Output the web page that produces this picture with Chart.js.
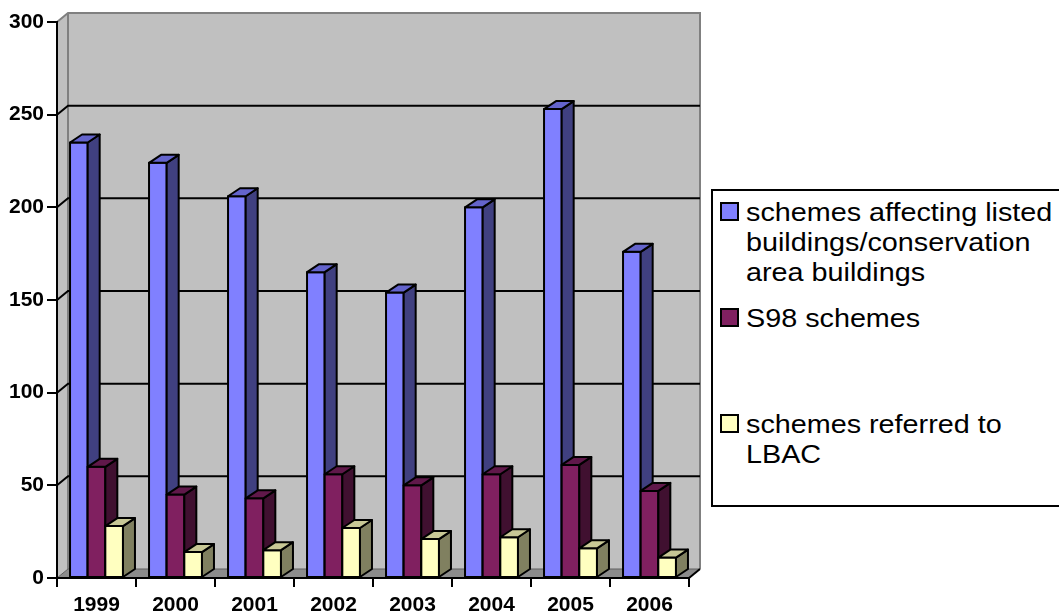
<!DOCTYPE html>
<html>
<head>
<meta charset="utf-8">
<script src="https://cdn.jsdelivr.net/npm/chart.js@4.4.1/dist/chart.umd.min.js"></script>
<style>
  html, body { margin:0; padding:0; background:#fff; }
  #wrap { position:relative; width:1059px; height:614px; overflow:hidden; }
  #legend {
    position:absolute; left:711px; top:189px; width:360px; height:314px;
    border:2px solid #000; background:#fff;
    font-family:"Liberation Sans", Arial, sans-serif; font-size:25px; color:#000;
  }
  .item { position:absolute; left:0; }
  .box { position:absolute; left:7px; top:3px; width:15px; height:15px; border:2px solid #000; }
  .txt { position:absolute; left:33px; top:-2px; width:285px; line-height:30px;
         transform:scaleX(1.15); transform-origin:0 0; }
</style>
</head>
<body>
<div id="wrap">
  <canvas id="chart"></canvas>
  <div id="legend"></div>
</div>
<script>
// ---------------------------
// Data
// ---------------------------
var years = ["1999", "2000", "2001", "2002", "2003", "2004", "2005", "2006"];
var listedSchemes = [235, 224, 206, 165, 154, 200, 253, 176];
var s98Schemes = [60, 45, 43, 56, 50, 56, 61, 47];
var lbacSchemes = [28, 14, 15, 27, 21, 22, 16, 11];
var seriesLabels = [
    "schemes affecting listed buildings/conservation area buildings",
    "S98 schemes",
    "schemes referred to LBAC"
];
var yTicks = [0, 50, 100, 150, 200, 250, 300];

// front, side, top colours for each series
var frontColors = ["#8080FF", "#802060", "#FFFFC0"];
var sideColors = ["#404080", "#401030", "#808060"];
var topColors = ["#6464CC", "#60184A", "#C8C896"];

// depth of the fake 3D
var wallDX = 11, wallDY = -9;
var barDX = 12, barDY = -8;

// ---------------------------
// Walls, floor and back gridlines
// ---------------------------
var wallsPlugin = {
    id: "walls",
    beforeDraw: function(chart){
        var ctx = chart.ctx;
        var a = chart.chartArea;
        var ys = chart.scales.y;
        ctx.save();

        // back wall
        ctx.fillStyle = "#C0C0C0";
        ctx.fillRect(a.left + wallDX, a.top + wallDY, a.right - a.left, a.bottom - a.top);

        // left wall
        ctx.beginPath();
        ctx.moveTo(a.left, a.top);
        ctx.lineTo(a.left + wallDX, a.top + wallDY);
        ctx.lineTo(a.left + wallDX, a.bottom + wallDY);
        ctx.lineTo(a.left, a.bottom);
        ctx.closePath();
        ctx.fillStyle = "#C0C0C0";
        ctx.fill();

        // wall edges
        ctx.strokeStyle = "#808080";
        ctx.lineWidth = 2;
        ctx.beginPath();
        ctx.moveTo(a.left, a.top);
        ctx.lineTo(a.left + wallDX, a.top + wallDY);
        ctx.lineTo(a.right + wallDX, a.top + wallDY);
        ctx.lineTo(a.right + wallDX, a.bottom + wallDY);
        ctx.moveTo(a.left + wallDX, a.top + wallDY);
        ctx.lineTo(a.left + wallDX, a.bottom + wallDY);
        ctx.stroke();

        // gridlines on side and back wall
        ctx.strokeStyle = "#000";
        ctx.lineWidth = 2;
        for(var i=0; i<yTicks.length; i++){
            var v = yTicks[i];
            if(v === ys.min || v === ys.max) continue;
            var y = ys.getPixelForValue(v);
            ctx.beginPath();
            ctx.moveTo(a.left, y);
            ctx.lineTo(a.left + wallDX, y + wallDY);
            ctx.lineTo(a.right + wallDX, y + wallDY);
            ctx.stroke();
        }

        // floor
        ctx.beginPath();
        ctx.moveTo(a.left, a.bottom);
        ctx.lineTo(a.left + wallDX, a.bottom + wallDY);
        ctx.lineTo(a.right + wallDX, a.bottom + wallDY);
        ctx.lineTo(a.right, a.bottom);
        ctx.closePath();
        ctx.fillStyle = "#8C8C8C";
        ctx.fill();
        ctx.strokeStyle = "#606060";
        ctx.lineWidth = 1;
        ctx.stroke();

        ctx.restore();
    },
    afterDraw: function(chart){
        var ctx = chart.ctx;
        var a = chart.chartArea;
        ctx.save();
        ctx.strokeStyle = "#000";
        ctx.lineWidth = 2;
        ctx.beginPath();
        ctx.moveTo(a.right, a.bottom);
        ctx.lineTo(a.right + wallDX, a.bottom + wallDY);
        ctx.stroke();
        ctx.restore();
    }
};

// ---------------------------
// Boxes: repaint each bar as front + side + top,
// series by series so later series sit in front
// ---------------------------
function poly(ctx, pts, fill){
    ctx.beginPath();
    ctx.moveTo(pts[0][0], pts[0][1]);
    for(var k=1; k<pts.length; k++) ctx.lineTo(pts[k][0], pts[k][1]);
    ctx.closePath();
    ctx.fillStyle = fill;
    ctx.fill();
    ctx.stroke();
}

var bar3dPlugin = {
    id: "bar3d",
    afterDatasetsDraw: function(chart){
        var ctx = chart.ctx;
        ctx.save();
        ctx.lineWidth = 2;
        ctx.strokeStyle = "#000";
        ctx.lineJoin = "round";
        for(var di=0; di<chart.data.datasets.length; di++){
            var meta = chart.getDatasetMeta(di);
            for(var i=0; i<meta.data.length; i++){
                var bar = meta.data[i];
                var l = bar.x - bar.width / 2;
                var r = bar.x + bar.width / 2;
                var t = bar.y;
                var b = bar.base;
                poly(ctx, [[l,t],[r,t],[r,b],[l,b]], frontColors[di]);
                poly(ctx, [[r,t],[r+barDX,t+barDY],[r+barDX,b+barDY],[r,b]], sideColors[di]);
                poly(ctx, [[l,t],[l+barDX,t+barDY],[r+barDX,t+barDY],[r,t]], topColors[di]);
            }
        }
        ctx.restore();
    }
};

// ---------------------------
// Chart
// ---------------------------
var seriesValues = [listedSchemes, s98Schemes, lbacSchemes];
var datasets = [];
for(var i=0; i<seriesValues.length; i++){
    datasets.push({
        label: seriesLabels[i],
        data: seriesValues[i],
        backgroundColor: frontColors[i],
        borderColor: "#000",
        borderWidth: 2,
        borderSkipped: false,
        categoryPercentage: 0.67,
        barPercentage: 1.0
    });
}

var tickFont = { family: "'Liberation Sans', Arial, sans-serif", size: 21, weight: "bold" };

new Chart(document.getElementById("chart"), {
    type: "bar",
    data: { labels: years, datasets: datasets },
    plugins: [wallsPlugin, bar3dPlugin],
    options: {
        responsive: true,
        maintainAspectRatio: false,
        animation: false,
        layout: { padding: { left: 0, top: 22, right: 370, bottom: 0 } },
        plugins: {
            legend: { display: false },
            tooltip: { enabled: false }
        },
        scales: {
            x: {
                grid: { display: true, drawOnChartArea: false, offset: true, tickLength: 9, color: "#000", lineWidth: 2 },
                border: { display: true, color: "#000", width: 2 },
                ticks: { color: "#000", font: tickFont, padding: 6, maxRotation: 0 },
                afterFit: function(s){ s.height = 36; }
            },
            y: {
                min: 0,
                max: 300,
                afterBuildTicks: function(s){
                    s.ticks = yTicks.map(function(v){ return { value: v }; });
                },
                grid: { display: true, drawOnChartArea: false, tickLength: 10, color: "#000", lineWidth: 2 },
                border: { display: true, color: "#000", width: 2 },
                ticks: { color: "#000", font: tickFont, padding: 3 },
                afterFit: function(s){ s.width = 57; }
            }
        }
    }
});

// ---------------------------
// Legend (Excel style, evenly spread entries)
// ---------------------------
var legend = document.getElementById("legend");
for(var i=0; i<seriesLabels.length; i++){
    var item = document.createElement("div");
    item.className = "item";
    item.style.top = (8 + i * 106) + "px";
    var box = document.createElement("div");
    box.className = "box";
    box.style.background = frontColors[i];
    var txt = document.createElement("div");
    txt.className = "txt";
    txt.textContent = seriesLabels[i];
    item.appendChild(box);
    item.appendChild(txt);
    legend.appendChild(item);
}
</script>
</body>
</html>
